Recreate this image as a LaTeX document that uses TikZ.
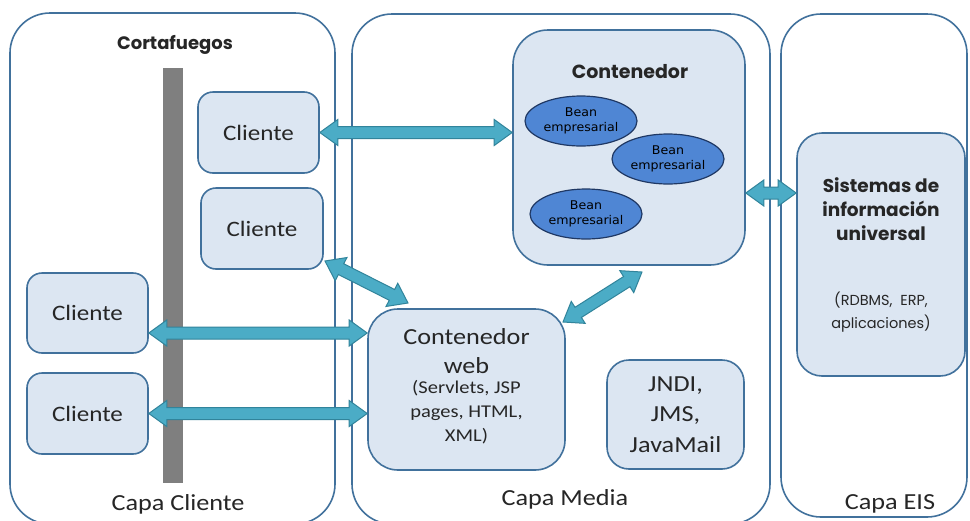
\documentclass[tikz,border=0pt]{standalone}
\usepackage{fontspec}
\setmainfont{Carlito}[FakeStretch=1.14]
\newfontfamily\gothic{Poppins}
\newfontfamily\verd{DejaVu Sans}[FakeStretch=1.05]
\usetikzlibrary{calc,shapes.geometric}
\definecolor{boxfill}{HTML}{DCE6F2}
\definecolor{boxline}{HTML}{41719C}
\definecolor{arrfill}{HTML}{4BACC6}
\definecolor{arrline}{HTML}{31849B}
\definecolor{beanfill}{HTML}{4F86D4}
\definecolor{beanline}{HTML}{1F3864}
\definecolor{txt}{HTML}{262626}
\definecolor{wall}{HTML}{7F7F7F}
\tikzset{
  layer/.style={draw=boxline, line width=1.6pt, rounded corners=40pt, fill=white},
  box/.style={draw=boxline, line width=1.6pt, fill=boxfill, text=txt, align=center, inner sep=0pt},
  bean/.style={ellipse, draw=beanline, fill=beanfill, line width=1.2pt, minimum width=112pt, minimum height=50pt, inner sep=0pt, align=center, text=black, font=\verd\fontsize{12}{15}\selectfont},
  lbl/.style={text=txt, align=center, inner sep=0pt},
  fat/.style={fill=arrfill, draw=arrline, line width=1pt, line join=miter},
}
\newcommand\fatarrow[2]{%
  \path[fat] let \p1=(#1), \p2=(#2), \n1={atan2(\y2-\y1,\x2-\x1)}, \n2={veclen(\x2-\x1,\y2-\y1)} in
  [shift={(\p1)}, rotate=\n1] (0pt,0pt) -- (18pt,13pt) -- (18pt,6pt) -- ({\n2-18pt},6pt) -- ({\n2-18pt},13pt)
  -- ({\n2},0pt) -- ({\n2-18pt},-13pt) -- ({\n2-18pt},-6pt) -- (18pt,-6pt) -- (18pt,-13pt) -- cycle;}
\begin{document}
\begin{tikzpicture}[x=1pt,y=-1pt]
\useasboundingbox (0,0) rectangle (970,520);
\fill[white] (0,0) rectangle (970,520);
% layers
\draw[layer] (10,13) rectangle (335,524);
\draw[layer] (352,14) rectangle (770,524);
\draw[layer] (781,14) rectangle (967,517);
\node[lbl, font=\fontsize{23}{27}\selectfont] (lcli) at (178,504) {Capa Cliente};
\node[lbl, font=\fontsize{23}{27}\selectfont] (lmed) at (565,499) {Capa Media};
\node[lbl, font=\fontsize{23}{27}\selectfont] (leis) at (890,504) {Capa EIS};
% firewall
\fill[wall] (163,68) rectangle (183,483);
\node[lbl, font=\gothic\bfseries\fontsize{18}{21}\selectfont] (cf) at (175,45) {Cortafuegos};
% clients
\node[box, rounded corners=15pt, minimum width=121pt, minimum height=81pt, font=\fontsize{22}{26}\selectfont] (cl1) at (258.5,132.5) {Cliente};
\node[box, rounded corners=15pt, minimum width=122pt, minimum height=81pt, font=\fontsize{22}{26}\selectfont] (cl2) at (262,228.5) {Cliente};
\node[box, rounded corners=15pt, minimum width=121pt, minimum height=80pt, font=\fontsize{22}{26}\selectfont] (cl3) at (87.5,313) {Cliente};
\node[box, rounded corners=15pt, minimum width=121pt, minimum height=81pt, font=\fontsize{22}{26}\selectfont] (cl4) at (87.5,413.5) {Cliente};
% EJB container
\node[box, rounded corners=35pt, minimum width=232pt, minimum height=235pt] (ejb) at (629,147.5) {};
\node[lbl, font=\gothic\bfseries\fontsize{19}{22}\selectfont] (ejbt) at (630,72) {Contenedor};
\node[bean] (b1) at (581,121) {Bean\\empresarial};
\node[bean] (b2) at (668,159) {Bean\\empresarial};
\node[bean] (b3) at (586,214) {Bean\\empresarial};
% web container
\node[box, rounded corners=30pt, minimum width=197pt, minimum height=161pt] (web) at (466.5,389.5) {};
\node[lbl, font=\fontsize{23}{29}\selectfont] (webt) at (466.5,351) {Contenedor\\web};
\node[lbl, font=\fontsize{18}{24}\selectfont] (webs) at (466.5,412) {(Servlets, JSP\\pages, HTML,\\XML)};
% JNDI
\node[box, rounded corners=22pt, minimum width=137pt, minimum height=109pt, font=\fontsize{23}{30.5}\selectfont] (jndi) at (675.5,414.5) {JNDI,\\JMS,\\JavaMail};
% EIS
\node[box, rounded corners=25pt, minimum width=168pt, minimum height=243pt] (sis) at (881,254.5) {};
\node[lbl, font=\gothic\bfseries\fontsize{18.5}{24}\selectfont] (sist) at (881,209) {Sistemas de\\información\\universal};
\node[lbl, font=\gothic\fontsize{14.5}{23}\selectfont] (sisd) at (881,312) {(RDBMS,\ \ ERP,\\aplicaciones)};
% connector end points
\coordinate (c3s) at ($(cl3.east)+(0,20)$);
\coordinate (c3e) at (web.west |- c3s);
\coordinate (c2s) at (325,261);
\coordinate (c2e) at (408,303);
\coordinate (wbs) at (563,322);
\coordinate (wbe) at (642,272);
\coordinate (ejs) at ($(ejb.east)+(0,45.5)$);
\coordinate (eje) at (sis.west |- ejs);
\coordinate (c1e) at (ejb.west |- cl1.east);
\coordinate (c4e) at (web.west |- cl4.east);
% arrows
\fatarrow{cl1.east}{c1e}
\fatarrow{c2s}{c2e}
\fatarrow{c3s}{c3e}
\fatarrow{cl4.east}{c4e}
\fatarrow{wbs}{wbe}
\fatarrow{ejs}{eje}
\end{tikzpicture}
\end{document}
